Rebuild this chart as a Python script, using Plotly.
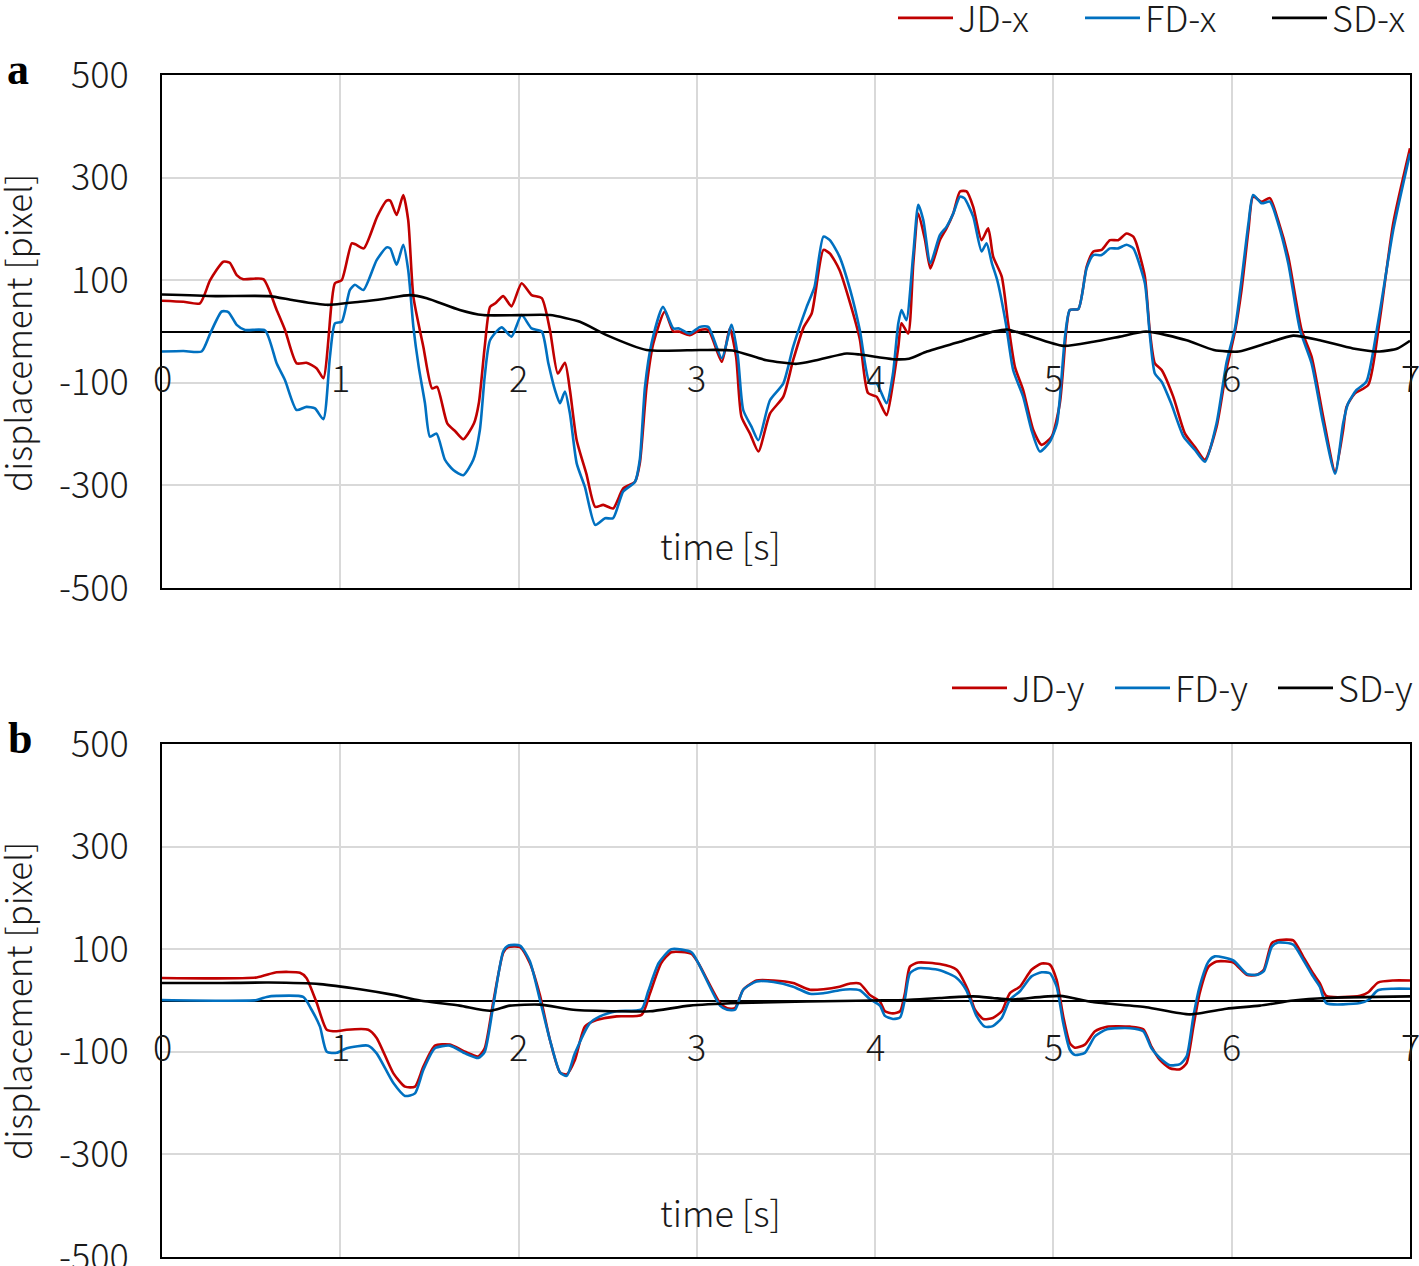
import plotly.graph_objects as go

# ---------------- data: panel a (x displacement) ----------------
t_jdx = [0, 0.12, 0.213, 0.27, 0.344, 0.38, 0.419, 0.456, 0.568, 0.643, 0.69, 0.755, 0.81, 0.868, 0.905,
         0.951, 0.970, 1.008, 1.064, 1.085, 1.132, 1.207, 1.26, 1.28, 1.316, 1.353, 1.381, 1.41, 1.466,
         1.515, 1.543, 1.6, 1.646, 1.69, 1.75, 1.777, 1.81, 1.84, 1.87, 1.914, 1.96, 2.017, 2.073, 2.13,
         2.176, 2.22, 2.26, 2.288, 2.326, 2.38, 2.43, 2.475, 2.53, 2.587, 2.653, 2.68, 2.718, 2.756, 2.82,
         2.868, 2.90, 2.96, 3.017, 3.064, 3.14, 3.185, 3.22, 3.25, 3.298, 3.345, 3.41, 3.485, 3.54, 3.6,
         3.644, 3.71, 3.746, 3.80, 3.86, 3.914, 3.96, 4.008, 4.064, 4.10, 4.13, 4.148, 4.185, 4.214, 4.242,
         4.28, 4.31, 4.363, 4.40, 4.438, 4.476, 4.513, 4.55, 4.597, 4.634, 4.662, 4.71, 4.746, 4.784, 4.83,
         4.887, 4.934, 4.99, 5.036, 5.074, 5.092, 5.14, 5.186, 5.224, 5.27, 5.317, 5.363, 5.41, 5.448,
         5.465, 5.513, 5.54, 5.569, 5.607, 5.672, 5.738, 5.794, 5.85, 5.915, 5.97, 6.02, 6.055, 6.094, 6.12,
         6.168, 6.214, 6.26, 6.317, 6.392, 6.448, 6.513, 6.58, 6.625, 6.644, 6.69, 6.766, 6.83, 6.906, 7.0]
jdx = [60, 58, 55, 100, 136, 134, 110, 102, 102, 42, 3, -62, -61, -72, -91,
       55, 94, 100, 172, 170, 162, 224, 255, 255, 227, 266, 217, 68, -30,
       -111, -108, -179, -195, -210, -179, -140, -30, 48, 55, 69, 49, 94, 71, 65,
       3, -82, -61, -114, -212, -277, -342, -338, -345, -306, -293, -257, -108, -23, 39,
       0, 0, -7, 3, 3, -59, 6, -49, -166, -199, -234, -160, -127, -56, 9,
       35, 159, 152, 120, 55, -15, -120, -127, -163, -101, -30, 16, -4, 133, 230,
       178, 123, 178, 201, 230, 273, 273, 243, 178, 201, 146, 107, 16, -69, -114,
       -192, -221, -205, -140, 9, 42, 44, 126, 156, 159, 178, 178, 191, 185,
       172, 107, 3, -62, -75, -127, -199, -225, -250, -186, -75, 3, 81, 198, 263,
       253, 260, 217, 146, 3, -49, -166, -273, -192, -147, -121, -104, 22, 211, 357]

t_fdx = [0, 0.12, 0.222, 0.27, 0.335, 0.372, 0.419, 0.466, 0.578, 0.643, 0.69, 0.755, 0.81, 0.858, 0.905,
         0.942, 0.97, 1.008, 1.054, 1.082, 1.13, 1.204, 1.26, 1.28, 1.316, 1.353, 1.381, 1.41, 1.44, 1.475,
         1.503, 1.54, 1.587, 1.634, 1.69, 1.746, 1.783, 1.81, 1.84, 1.905, 1.96, 2.017, 2.073, 2.13,
         2.167, 2.204, 2.232, 2.26, 2.288, 2.326, 2.372, 2.43, 2.485, 2.53, 2.587, 2.653, 2.68, 2.709, 2.746,
         2.81, 2.868, 2.90, 2.96, 3.017, 3.064, 3.14, 3.195, 3.23, 3.26, 3.307, 3.345, 3.41, 3.485, 3.54,
         3.616, 3.66, 3.71, 3.746, 3.80, 3.86, 3.914, 3.97, 4.008, 4.064, 4.10, 4.13, 4.148, 4.175, 4.214,
         4.242, 4.27, 4.31, 4.363, 4.40, 4.438, 4.476, 4.50, 4.55, 4.597, 4.625, 4.655, 4.685, 4.733, 4.774,
         4.83, 4.877, 4.924, 4.98, 5.02, 5.065, 5.092, 5.14, 5.186, 5.224, 5.27, 5.317, 5.363, 5.41, 5.448,
         5.465, 5.513, 5.54, 5.569, 5.607, 5.66, 5.73, 5.794, 5.85, 5.915, 5.97, 6.02, 6.055, 6.094, 6.12,
         6.168, 6.214, 6.26, 6.317, 6.383, 6.448, 6.513, 6.58, 6.625, 6.653, 6.70, 6.755, 6.82, 6.906, 7.0]
fdx = [-39, -38, -39, -4, 39, 38, 13, 3, 2, -62, -95, -153, -147, -150, -171,
       -49, 16, 19, 81, 91, 81, 139, 164, 162, 130, 169, 120, 9, -69, -140,
       -205, -199, -250, -270, -280, -250, -192, -88, -17, 8, -10, 32, 6, 0,
       -62, -114, -140, -117, -160, -257, -303, -377, -364, -364, -312, -293, -250, -108, -23,
       48, 6, 6, -4, 9, 9, -52, 13, -49, -153, -186, -212, -134, -101, -30,
       48, 87, 185, 178, 146, 81, 3, -101, -101, -140, -82, 16, 42, 22, 152,
       247, 217, 133, 188, 204, 230, 263, 260, 224, 156, 172, 133, 100, 16, -75,
       -127, -192, -234, -215, -179, -10, 42, 44, 123, 149, 149, 162, 162, 169, 162,
       149, 94, -4, -82, -98, -140, -205, -231, -254, -179, -62, 9, 100, 211, 266,
       250, 253, 211, 133, 3, -62, -179, -277, -179, -140, -114, -98, 16, 198, 347]

t_sdx = [0, 0.3, 0.6, 0.737, 0.924, 1.11, 1.25, 1.39, 1.485, 1.67, 1.80, 2.008, 2.176, 2.344, 2.494,
         2.718, 3.02, 3.2, 3.39, 3.56, 3.67, 3.84, 3.915, 4.10, 4.19, 4.29, 4.475, 4.665, 4.74, 4.85,
         5.055, 5.224, 5.373, 5.52, 5.747, 5.90, 6.04, 6.196, 6.345, 6.494, 6.68, 6.83, 6.93, 7.0]
sdx = [72, 69, 69, 61, 52, 58, 64, 71, 65, 42, 32, 32, 32, 19, -7,
       -36, -36, -37, -56, -63, -56, -43, -45, -54, -53, -39, -20, 0, 4, -7,
       -28, -20, -10, 0, -17, -36, -39, -23, -8, -17, -33, -39, -33, -18]

# ---------------- data: panel b (y displacement) ----------------
t_jdy = [0, 0.531, 0.643, 0.774, 0.81, 0.868, 0.924, 0.98, 1.036, 1.157, 1.204, 1.298, 1.363, 1.419,
         1.466, 1.531, 1.615, 1.70, 1.774, 1.81, 1.857, 1.914, 1.942, 2.008, 2.063, 2.12, 2.176, 2.232,
         2.27, 2.316, 2.372, 2.437, 2.55, 2.69, 2.737, 2.80, 2.857, 2.97, 3.008, 3.13, 3.17, 3.214, 3.26,
         3.335, 3.43, 3.54, 3.634, 3.71, 3.80, 3.86, 3.914, 3.97, 4.027, 4.055, 4.10, 4.14, 4.167, 4.195,
         4.242, 4.363, 4.457, 4.52, 4.56, 4.606, 4.66, 4.71, 4.755, 4.812, 4.877, 4.934, 4.98, 5.018,
         5.055, 5.092, 5.12, 5.176, 5.233, 5.30, 5.43, 5.504, 5.55, 5.597, 5.653, 5.71, 5.747, 5.785,
         5.82, 5.87, 5.915, 6.009, 6.084, 6.14, 6.18, 6.225, 6.27, 6.345, 6.40, 6.456, 6.494, 6.53,
         6.72, 6.766, 6.82, 6.906, 7.0]
jdy = [44, 45, 55, 54, 44, -5, -57, -60, -57, -57, -73, -142, -168, -168,
       -129, -88, -86, -100, -109, -93, -5, 93, 104, 104, 73, 10, -77, -140,
       -144, -116, -51, -38, -31, -28, 14, 73, 94, 91, 73, -5, -15, -15, 21,
       39, 39, 34, 21, 22, 27, 33, 33, 11, -2, -21, -25, -21, 14, 66,
       74, 71, 60, 21, -18, -36, -34, -21, 14, 27, 60, 72, 70, 40,
       -31, -83, -92, -86, -60, -51, -51, -56, -90, -116, -132, -134, -122, -51,
       14, 66, 76, 74, 50, 50, 60, 112, 118, 117, 86, 53, 34, 9,
       9, 16, 35, 39, 39]

t_fdy = [0, 0.531, 0.587, 0.643, 0.792, 0.839, 0.886, 0.924, 0.98, 1.036, 1.157, 1.204, 1.298, 1.363,
         1.419, 1.466, 1.531, 1.615, 1.70, 1.774, 1.81, 1.857, 1.914, 1.942, 2.008, 2.063, 2.12, 2.176,
         2.232, 2.27, 2.316, 2.40, 2.456, 2.55, 2.69, 2.727, 2.786, 2.857, 2.97, 3.008, 3.13, 3.17, 3.214,
         3.26, 3.335, 3.43, 3.54, 3.634, 3.71, 3.80, 3.86, 3.914, 3.97, 4.027, 4.055, 4.10, 4.14, 4.167,
         4.195, 4.242, 4.363, 4.457, 4.51, 4.57, 4.615, 4.66, 4.71, 4.755, 4.812, 4.877, 4.934, 4.98,
         5.018, 5.055, 5.092, 5.12, 5.176, 5.233, 5.30, 5.43, 5.504, 5.55, 5.597, 5.653, 5.71, 5.747,
         5.785, 5.82, 5.87, 5.905, 6.009, 6.084, 6.14, 6.18, 6.225, 6.26, 6.345, 6.40, 6.456, 6.494,
         6.53, 6.72, 6.766, 6.82, 6.906, 7.0]
fdy = [1, 1, 7, 9, 7, -18, -51, -100, -102, -93, -88, -103, -161, -186,
       -181, -135, -93, -88, -103, -112, -100, -12, 96, 107, 107, 77, 1, -77,
       -140, -147, -103, -44, -31, -21, -17, 18, 73, 100, 94, 73, -10, -18, -18,
       21, 37, 36, 27, 13, 14, 20, 22, 20, 3, -10, -30, -36, -33, 3,
       53, 63, 59, 44, 21, -31, -51, -50, -34, 1, 18, 47, 55, 53,
       27, -44, -96, -106, -102, -70, -56, -54, -60, -93, -112, -126, -124, -109,
       -31, 27, 76, 86, 78, 52, 50, 57, 105, 113, 109, 80, 47, 27,
       -5, -5, 1, 20, 23, 23]

t_sdy = [0, 0.3, 0.6, 0.886, 1.11, 1.298, 1.447, 1.67, 1.84, 1.95, 2.12, 2.307, 2.569, 2.737, 2.96,
         3.24, 3.616, 3.99, 4.177, 4.363, 4.55, 4.66, 4.755, 5.036, 5.22, 5.52, 5.765, 5.97, 6.158,
         6.345, 6.53, 7.0]
sdy = [34, 34, 35, 32, 22, 11, 0, -10, -20, -10, -8, -18, -21, -21, -10,
       -5, -2, 0, 1, 5, 8, 5, 2, 9, -3, -13, -27, -16, -10,
       0, 5, 8]

x_ticks = [0, 1, 2, 3, 4, 5, 6, 7]
y_ticks = [-500, -300, -100, 100, 300, 500]
y_tick_text = ["-500", "-300", "-100", "100", "300", "500"]

RED = "#C00000"
BLUE = "#0070C0"
BLACK = "#000000"
TXT = "#1a1a1a"
FONT = "Noto Sans CJK JP"
FS = 36

fig = go.Figure()

def add(t, v, name, color, xa, ya, legend):
    fig.add_trace(go.Scatter(x=t, y=v, name=name, mode="lines", xaxis=xa, yaxis=ya,
                             line=dict(color=color, width=2.6, shape="spline", smoothing=0.6),
                             legend=legend))

add(t_jdx, jdx, "JD-x", RED, "x", "y", "legend")
add(t_fdx, fdx, "FD-x", BLUE, "x", "y", "legend")
add(t_sdx, sdx, "SD-x", BLACK, "x", "y", "legend")
add(t_jdy, jdy, "JD-y", RED, "x2", "y2", "legend2")
add(t_fdy, fdy, "FD-y", BLUE, "x2", "y2", "legend2")
add(t_sdy, sdy, "SD-y", BLACK, "x2", "y2", "legend2")

W, H = 1419, 1266
xdom = [162 / W, 1410 / W]
ydom_a = [1 - 588 / H, 1 - 75 / H]
ydom_b = [1 - 1257 / H, 1 - 744 / H]

xcommon = dict(range=[0, 7], tickvals=x_ticks, showticklabels=False, showgrid=True,
               gridcolor="#d9d9d9", gridwidth=1.5, showline=True, linecolor="black", linewidth=2,
               mirror=True, ticks="", zeroline=False)
ycommon = dict(range=[-500, 500], tickvals=y_ticks, ticktext=y_tick_text, showgrid=True,
               gridcolor="#d9d9d9", gridwidth=1.5,
               showline=True, linecolor="black", linewidth=2, mirror=True, ticks="",
               zeroline=True, zerolinecolor="black", zerolinewidth=1.5,
               tickfont=dict(family=FONT, size=FS, color=TXT, weight=300),
               ticklabelstandoff=24, ticklabeloverflow="allow")

legend_common = dict(orientation="h", xanchor="right", yanchor="middle",
                     font=dict(family=FONT, size=FS, color=TXT, weight=300), itemwidth=55,
                     bgcolor="rgba(0,0,0,0)", tracegroupgap=0)

fig.update_layout(
    width=W, height=H, plot_bgcolor="white", paper_bgcolor="white",
    margin=dict(l=0, r=0, t=0, b=0, autoexpand=False),
    xaxis=dict(domain=xdom, anchor="y", **xcommon),
    yaxis=dict(domain=ydom_a, anchor="x", **ycommon),
    xaxis2=dict(domain=xdom, anchor="y2", **xcommon),
    yaxis2=dict(domain=ydom_b, anchor="x2", **ycommon),
    legend=dict(x=1 + 35 / W, y=1 - 18 / H, entrywidth=117, **legend_common),
    legend2=dict(x=1 + 17 / W, y=1 - 688 / H, entrywidth=93, **legend_common),
    showlegend=True,
)

ann = []
for xr, yr in (("x", "y"), ("x2", "y2")):
    for t in x_ticks:
        ann.append(dict(x=t, y=0, xref=xr, yref=yr, text=str(t), showarrow=False,
                        yanchor="middle", xanchor="center", yshift=-44,
                        font=dict(family=FONT, size=FS, color=TXT, weight=300)))
# axis titles
for yc, tc in ((1 - 333 / H, 1 - 544 / H), (1 - 1001 / H, 1 - 1211 / H)):
    ann.append(dict(x=16 / W, y=yc, xref="paper", yref="paper", text="displacement [pixel]",
                    textangle=-90, showarrow=False, xanchor="center", yanchor="middle",
                    font=dict(family=FONT, size=35, color=TXT, weight=300)))
    ann.append(dict(x=720 / W, y=tc, xref="paper", yref="paper", text="time [s]",
                    showarrow=False, xanchor="center", yanchor="middle",
                    font=dict(family=FONT, size=FS, color=TXT, weight=300)))
# panel letters
ann.append(dict(x=18 / W, y=1 - 70 / H, xref="paper", yref="paper", text="<b>a</b>", showarrow=False,
                xanchor="center", yanchor="middle", font=dict(family="Liberation Serif", size=44, color="black")))
ann.append(dict(x=20 / W, y=1 - 738 / H, xref="paper", yref="paper", text="<b>b</b>", showarrow=False,
                xanchor="center", yanchor="middle", font=dict(family="Liberation Serif", size=44, color="black")))
fig.update_layout(annotations=ann)

fig.write_html("out.html", config={"displayModeBar": False},
               post_script="document.body.style.margin='0';")
